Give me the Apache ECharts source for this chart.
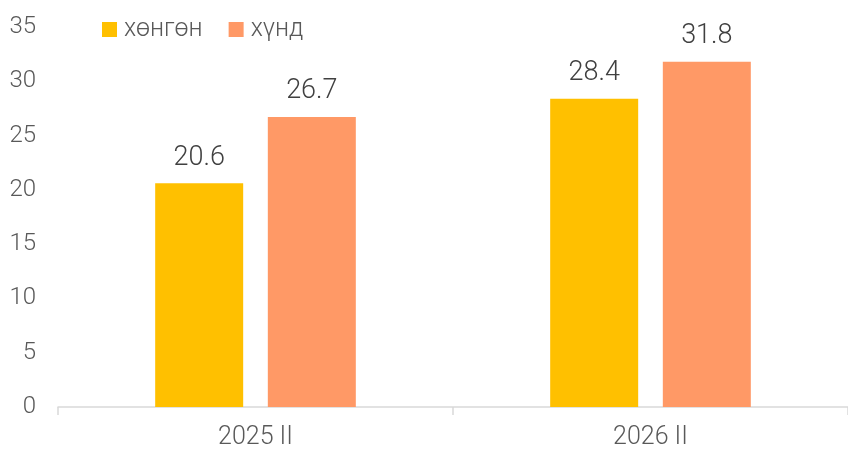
<!DOCTYPE html>
<html><head><meta charset="utf-8">
<script src="https://cdn.jsdelivr.net/npm/echarts@6/dist/echarts.min.js"></script>
<style>html,body{margin:0;padding:0;background:#fff}#c{width:848px;height:450px}</style>
</head><body><div id="c"></div>
<script>
const categories = ["2025 II", "2026 II"];
const seriesNames = ["хөнгөн", "хүнд"];
const lightValues = [20.6, 28.4];
const heavyValues = [26.7, 31.8];
const colors = ["#FFC000", "#FF9966"];
const font = "Roboto";
const chart = echarts.init(document.getElementById('c'));
const lbl = {show: true, position: 'top', distance: 12, color: '#404040', fontSize: 27, fontFamily: font, fontWeight: 300, formatter: p => p.value.toFixed(1)};
chart.setOption({
  animation: false,
  grid: {left: 58, width: 794, top: 27, bottom: 43},
  legend: {
    left: 97, top: 12, itemWidth: 15, itemHeight: 15, itemGap: 26,
    icon: 'rect',
    textStyle: {color: '#595959', fontSize: 25, fontFamily: font, fontWeight: 300, padding: [0,0,0,2]},
    data: seriesNames
  },
  xAxis: {
    type: 'category', data: categories,
    axisLine: {lineStyle: {color: '#D9D9D9', width: 1.5}},
    axisTick: {show: true, length: 8, lineStyle: {color: '#D9D9D9', width: 1.5}},
    axisLabel: {color: '#595959', fontSize: 25, fontFamily: font, fontWeight: 300, margin: 18}
  },
  yAxis: {
    type: 'value', min: 0, max: 35, interval: 5,
    splitLine: {show: false}, axisLine: {show: false}, axisTick: {show: false},
    axisLabel: {color: '#595959', fontSize: 24, fontFamily: font, fontWeight: 300, margin: 22}
  },
  series: [
    {name: seriesNames[0], type: 'bar', data: lightValues, barWidth: 88, barGap: '28%', itemStyle: {color: colors[0]}, label: lbl},
    {name: seriesNames[1], type: 'bar', data: heavyValues, barWidth: 88, itemStyle: {color: colors[1]}, label: lbl}
  ]
});
</script></body></html>
